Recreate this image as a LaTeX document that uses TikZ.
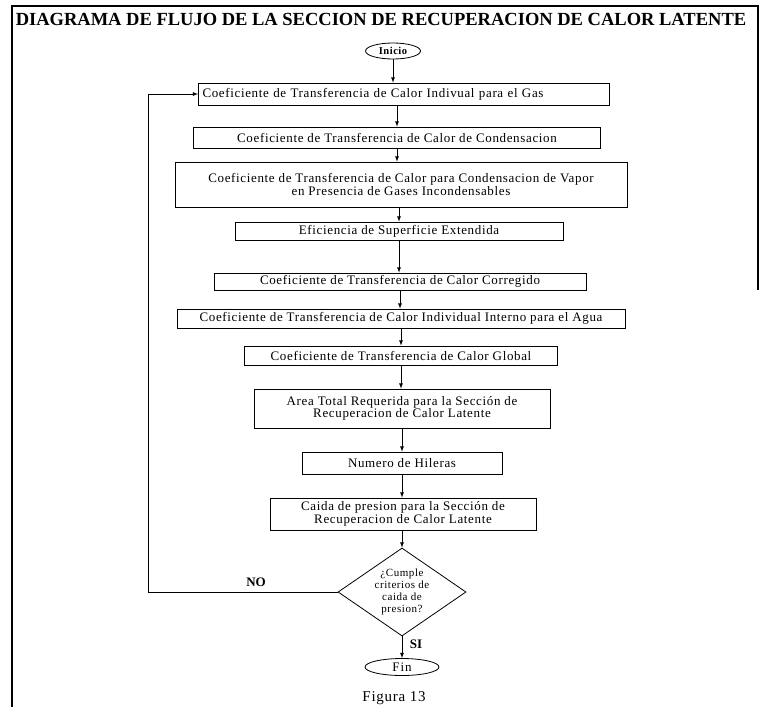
\documentclass[tikz,border=0pt]{standalone}
\usepackage{fontspec}
\setmainfont{Liberation Serif}
\usetikzlibrary{shapes.geometric}
\begin{document}
\begin{tikzpicture}[x=1pt,y=-1pt,thick,
  caja/.style={draw,rectangle,inner sep=0pt,align=center,font=\fontsize{13}{12.5}\selectfont\addfontfeatures{LetterSpace=5}},
  term/.style={draw,ellipse,inner sep=0pt},
  etiq/.style={font=\bfseries\fontsize{13}{14}\selectfont},
  flecha/.style={-latex}]
\useasboundingbox (0,0) rectangle (760,707);
\draw[line width=1.2pt] (758,290) -- (758,6) -- (12,6) -- (12,707);
\node[font=\bfseries\fontsize{18.5}{20}\selectfont] (titulo) at (381,19) {DIAGRAMA DE FLUJO DE LA SECCION DE RECUPERACION DE CALOR LATENTE};
\node[term,minimum width=55pt,minimum height=16pt,font=\bfseries\fontsize{10.5}{12}\selectfont\addfontfeatures{LetterSpace=5}] (ini) at (393,51) {Inicio};
\node[caja,minimum height=22pt,text width=403pt,inner xsep=4pt,align=left] (c1) at (404,94) {Coeficiente de Transferencia de Calor Indivual para el Gas};
\node[caja,minimum width=407pt,minimum height=21pt] (c2) at (397,137.5) {Coeficiente de Transferencia de Calor de Condensacion};
\node[caja,minimum width=452pt,minimum height=45pt] (c3) at (401,184.5) {Coeficiente de Transferencia de Calor para Condensacion de Vapor\\en Presencia de Gases Incondensables};
\node[caja,minimum width=328pt,minimum height=18pt] (c4) at (399,231) {Eficiencia de Superficie Extendida};
\node[caja,minimum width=372pt,minimum height=17pt] (c5) at (400,281.5) {Coeficiente de Transferencia de Calor Corregido};
\node[caja,minimum width=448pt,minimum height=19pt] (c6) at (401,318.5) {Coeficiente de Transferencia de Calor Individual Interno para el Agua};
\node[caja,minimum width=313pt,minimum height=19pt] (c7) at (401,355.5) {Coeficiente de Transferencia de Calor Global};
\node[caja,minimum width=296pt,minimum height=39pt] (c8) at (402,408.5) {Area Total Requerida para la Sección de\\Recuperacion de Calor Latente};
\node[caja,minimum width=200pt,minimum height=22pt] (c9) at (402,463) {Numero de Hileras};
\node[caja,minimum width=266pt,minimum height=32pt] (c10) at (403,514) {Caida de presion para la Sección de\\Recuperacion de Calor Latente};
\node[draw,diamond,aspect=1.45,inner sep=0pt,minimum width=128pt,minimum height=88pt,align=center,font=\fontsize{11}{12}\selectfont\addfontfeatures{LetterSpace=5}] (dec) at (402,592) {¿Cumple\\criterios de\\caida de\\presion?};
\node[term,minimum width=74pt,minimum height=17pt,font=\fontsize{13}{13}\selectfont\addfontfeatures{LetterSpace=8}] (fin) at (402,667) {Fin};
\node[font=\fontsize{15}{16}\selectfont\addfontfeatures{LetterSpace=5}] (fig) at (394,698) {Figura 13};
\node[etiq] (no) at (256,582) {NO};
\node[etiq] (si) at (416,644) {SI};
\coordinate (vuelta) at (148,592);
\draw[flecha] (ini.south) -- (ini.south |- c1.north);
\draw[flecha] (c1.south -| c2.north) -- (c2.north);
\draw[flecha] (c2.south) -- (c2.south |- c3.north);
\draw[flecha] (c3.south -| c4.north) -- (c4.north);
\draw[flecha] (c4.south) -- (c4.south |- c5.north);
\draw[flecha] (c5.south) -- (c5.south |- c6.north);
\draw[flecha] (c6.south) -- (c6.south |- c7.north);
\draw[flecha] (c7.south) -- (c7.south |- c8.north);
\draw[flecha] (c8.south) -- (c8.south |- c9.north);
\draw[flecha] (c9.south) -- (c9.south |- c10.north);
\draw[flecha] (c10.south -| dec.north) -- (dec.north);
\draw[flecha] (dec.south) -- (fin.north);
\draw[flecha] (dec.west) -- (vuelta) |- (c1.west);
\end{tikzpicture}
\end{document}
